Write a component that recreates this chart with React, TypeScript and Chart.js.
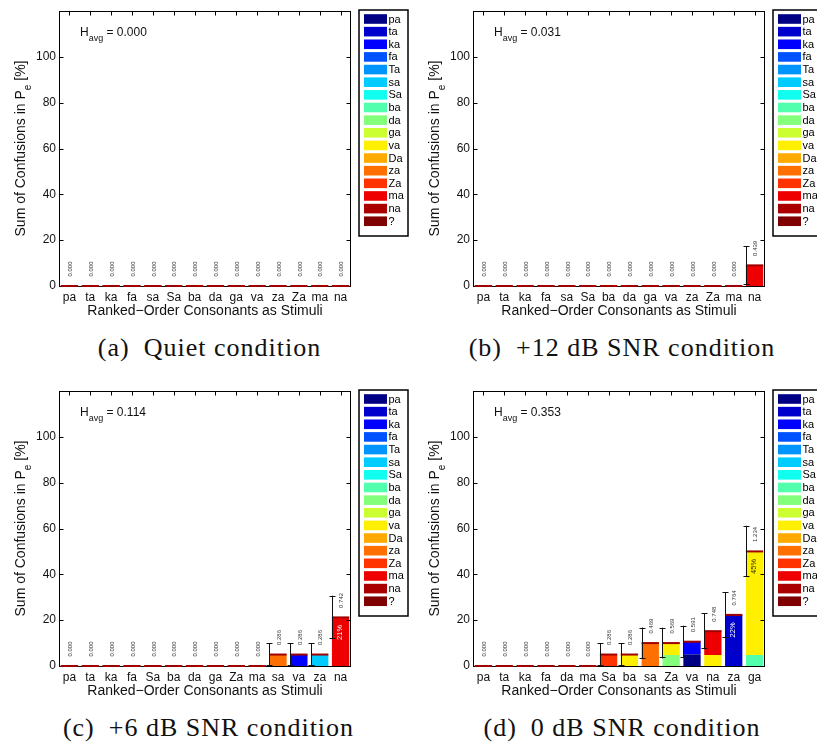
import React, { useEffect, useRef } from 'react';
import { Chart, registerables } from 'chart.js';

Chart.register(...registerables);

// ---------- shared legend (response categories) ----------
const RESPONSES = ['pa', 'ta', 'ka', 'fa', 'Ta', 'sa', 'Sa', 'ba', 'da', 'ga', 'va', 'Da', 'za', 'Za', 'ma', 'na', '?'];
const RESPONSE_COLORS = [
  '#000084', '#0000CC', '#0000FF', '#0052FF', '#0094FF', '#00CCFF', '#10FFEF', '#52FFAD',
  '#84FF7B', '#CCFF31', '#FFEF00', '#FFAA00', '#FF7000', '#FF3300', '#EE0000', '#AA0000', '#7F0000',
];

// ---------- (a) Quiet ----------
const catsA = ['pa', 'ta', 'ka', 'fa', 'sa', 'Sa', 'ba', 'da', 'ga', 'va', 'za', 'Za', 'ma', 'na'];
const errA = [0, 0, 0, 0, 0, 0, 0, 0, 0, 0, 0, 0, 0, 0];
const entA = ['0.000', '0.000', '0.000', '0.000', '0.000', '0.000', '0.000', '0.000', '0.000', '0.000', '0.000', '0.000', '0.000', '0.000'];
const hA = '0.000';

// ---------- (b) +12 dB ----------
const catsB = ['pa', 'ta', 'ka', 'fa', 'sa', 'Sa', 'ba', 'da', 'ga', 'va', 'za', 'Za', 'ma', 'na'];
const bMa = [0, 0, 0, 0, 0, 0, 0, 0, 0, 0, 0, 0, 0, 9.0];
const errB = [0, 0, 0, 0, 0, 0, 0, 0, 0, 0, 0, 0, 0, 8.4];
const entB = ['0.000', '0.000', '0.000', '0.000', '0.000', '0.000', '0.000', '0.000', '0.000', '0.000', '0.000', '0.000', '0.000', '0.439'];
const hB = '0.031';

// ---------- (c) +6 dB ----------
const catsC = ['pa', 'ta', 'ka', 'fa', 'Sa', 'ba', 'da', 'ga', 'Za', 'ma', 'sa', 'va', 'za', 'na'];
const cZa = [0, 0, 0, 0, 0, 0, 0, 0, 0, 0, 5.0, 0, 0, 0];
const cKa = [0, 0, 0, 0, 0, 0, 0, 0, 0, 0, 0, 5.0, 0, 0];
const cSa = [0, 0, 0, 0, 0, 0, 0, 0, 0, 0, 0, 0, 5.0, 0];
const cMa = [0, 0, 0, 0, 0, 0, 0, 0, 0, 0, 0, 0, 0, 21.2];
const errC = [0, 0, 0, 0, 0, 0, 0, 0, 0, 0, 5.0, 5.0, 5.0, 9.5];
const entC = ['0.000', '0.000', '0.000', '0.000', '0.000', '0.000', '0.000', '0.000', '0.000', '0.000', '0.286', '0.286', '0.286', '0.742'];
const hC = '0.114';

// ---------- (d) 0 dB ----------
const catsD = ['pa', 'ta', 'ka', 'fa', 'da', 'ma', 'Sa', 'ba', 'sa', 'Za', 'va', 'na', 'za', 'ga'];
const dPa = [0, 0, 0, 0, 0, 0, 0, 0, 0, 0, 5.1, 0, 0, 0];
const dTa = [0, 0, 0, 0, 0, 0, 0, 0, 0, 0, 0, 0, 22.3, 0];
const dKa = [0, 0, 0, 0, 0, 0, 0, 0, 0, 0, 5.5, 0, 0, 0];
const dBa = [0, 0, 0, 0, 0, 0, 0, 0, 0, 0, 0, 0, 0, 4.8];
const dDa = [0, 0, 0, 0, 0, 0, 0, 0, 0, 4.8, 0, 0, 0, 0];
const dVa = [0, 0, 0, 0, 0, 0, 0, 5.0, 0, 5.2, 0, 4.8, 0, 45.2];
const dZa = [0, 0, 0, 0, 0, 0, 0, 0, 10.0, 0, 0, 0, 0, 0];
const dZZa = [0, 0, 0, 0, 0, 0, 5.0, 0, 0, 0, 0, 0, 0, 0];
const dMa = [0, 0, 0, 0, 0, 0, 0, 0, 0, 0, 0, 10.4, 0, 0];
const errD = [0, 0, 0, 0, 0, 0, 5.0, 5.0, 6.8, 6.7, 7.0, 7.9, 9.9, 11.2];
const entD = ['0.000', '0.000', '0.000', '0.000', '0.000', '0.000', '0.286', '0.286', '0.469', '0.569', '0.591', '0.748', '0.764', '1.234'];
const hD = '0.353';

const Y_TICKS = [0, 20, 40, 60, 80, 100];
const Y_MAX = 120;
const X_TITLE = 'Ranked\u2212Order Consonants as Stimuli';
const Y_TITLE_MAIN = 'Sum of Confusions in P';
const Y_TITLE_SUB = 'e';
const Y_TITLE_END = ' [%]';
const PCT_MIN = 20;

type Panel = {
  cats: string[];
  series: Record<string, number[]>;
  err: number[];
  ent: string[];
  h: string;
};

const panelA: Panel = { cats: catsA, series: {}, err: errA, ent: entA, h: hA };
const panelB: Panel = { cats: catsB, series: { ma: bMa }, err: errB, ent: entB, h: hB };
const panelC: Panel = { cats: catsC, series: { za: cZa, ka: cKa, sa: cSa, ma: cMa }, err: errC, ent: entC, h: hC };
const panelD: Panel = {
  cats: catsD,
  series: { pa: dPa, ta: dTa, ka: dKa, ba: dBa, da: dDa, va: dVa, za: dZa, Za: dZZa, ma: dMa },
  err: errD, ent: entD, h: hD,
};

const FONT = '"Liberation Sans", Arial, Helvetica, sans-serif';
const CAP_COLOR = '#A00000';

function vText(ctx: CanvasRenderingContext2D, text: string, x: number, y: number, align: CanvasTextAlign) {
  ctx.save();
  ctx.translate(x, y);
  ctx.rotate(-Math.PI / 2);
  ctx.textAlign = align;
  ctx.textBaseline = 'middle';
  ctx.fillText(text, 0, 0);
  ctx.restore();
}

function isDark(hex: string) {
  const r = parseInt(hex.slice(1, 3), 16);
  const g = parseInt(hex.slice(3, 5), 16);
  const b = parseInt(hex.slice(5, 7), 16);
  return 0.299 * r + 0.587 * g + 0.114 * b < 150;
}

function makePlugin(p: Panel) {
  return {
    id: 'panelDecor',
    afterDatasetsDraw(chart: any) {
      const ctx: CanvasRenderingContext2D = chart.ctx;
      const ca = chart.chartArea;
      const xs = chart.scales.x;
      const ys = chart.scales.y;
      const n = p.cats.length;
      const datasets = chart.data.datasets;
      const meta = chart.getDatasetMeta(0);

      ctx.save();
      // axes box
      ctx.strokeStyle = '#000';
      ctx.lineWidth = 1;
      const L = Math.round(ca.left) + 0.5;
      const R = Math.round(ca.right) - 0.5;
      const T = Math.round(ca.top) + 0.5;
      const B = Math.round(ca.bottom) + 0.5;
      ctx.strokeRect(L, T, R - L, B - T);
      // inside ticks
      ctx.beginPath();
      for (let i = 0; i < n; i++) {
        const px = Math.round(xs.getPixelForValue(i)) + 0.5;
        ctx.moveTo(px, T);
        ctx.lineTo(px, T + 4);
      }
      for (const v of Y_TICKS) {
        if (v === 0) continue;
        const py = Math.round(ys.getPixelForValue(v)) + 0.5;
        ctx.moveTo(L, py);
        ctx.lineTo(L + 4, py);
        ctx.moveTo(R, py);
        ctx.lineTo(R - 4, py);
      }
      ctx.stroke();

      // totals, caps
      const totals: number[] = [];
      for (let i = 0; i < n; i++) {
        let s = 0;
        for (const ds of datasets) s += ds.data[i] as number;
        totals.push(s);
      }
      for (let i = 0; i < n; i++) {
        const bar = meta.data[i] as any;
        const bl = bar.x - bar.width / 2;
        const top = ys.getPixelForValue(totals[i]);
        ctx.fillStyle = CAP_COLOR;
        ctx.fillRect(bl, top - 1, bar.width, 2);
      }

      // error bars at left edge of bars
      ctx.strokeStyle = '#111';
      ctx.lineWidth = 1;
      for (let i = 0; i < n; i++) {
        const e = p.err[i];
        if (!e) continue;
        const bar = meta.data[i] as any;
        const ex = Math.round(bar.x - bar.width / 2) + 0.5;
        const hi = ys.getPixelForValue(totals[i] + e);
        const lo = ys.getPixelForValue(Math.max(0, totals[i] - e));
        ctx.beginPath();
        ctx.moveTo(ex, hi);
        ctx.lineTo(ex, lo);
        ctx.moveTo(ex - 3, Math.round(hi) + 0.5);
        ctx.lineTo(ex + 3, Math.round(hi) + 0.5);
        ctx.moveTo(ex - 3, Math.round(lo) - 0.5);
        ctx.lineTo(ex + 3, Math.round(lo) - 0.5);
        ctx.stroke();
      }

      // entropy labels
      ctx.fillStyle = '#333';
      ctx.font = `6px ${FONT}`;
      for (let i = 0; i < n; i++) {
        const bar = meta.data[i] as any;
        const top = ys.getPixelForValue(totals[i]);
        vText(ctx, p.ent[i], bar.x + 1, top - 9.5, 'left');
      }

      // percent labels inside big segments
      ctx.font = `7.5px ${FONT}`;
      for (let i = 0; i < n; i++) {
        let cum = 0;
        const bar = meta.data[i] as any;
        datasets.forEach((ds: any) => {
          const v = ds.data[i] as number;
          cum += v;
          if (v >= PCT_MIN) {
            const segTop = ys.getPixelForValue(cum);
            ctx.fillStyle = isDark(ds.backgroundColor) ? '#ffffff' : '#333300';
            vText(ctx, `${Math.round(v)}%`, bar.x - 1, segTop + 7.5, 'right');
          }
        });
      }

      // H_avg annotation
      ctx.fillStyle = '#111';
      ctx.textAlign = 'left';
      ctx.textBaseline = 'alphabetic';
      const hx = ca.left + 21;
      const hy = ca.top + 25;
      ctx.font = `12px ${FONT}`;
      ctx.fillText('H', hx, hy);
      const hw = ctx.measureText('H').width;
      ctx.font = `9px ${FONT}`;
      ctx.fillText('avg', hx + hw, hy + 5);
      const aw = ctx.measureText('avg').width;
      ctx.font = `12px ${FONT}`;
      ctx.fillText(` = ${p.h}`, hx + hw + aw, hy);

      // legend
      const lx = ca.right + 8;
      const ly = ca.top - 1;
      const lw = 49;
      const lh = 226;
      ctx.fillStyle = '#fff';
      ctx.fillRect(lx, ly, lw, lh);
      ctx.font = `11px ${FONT}`;
      ctx.textBaseline = 'middle';
      datasets.forEach((ds: any, k: number) => {
        const cy = ly + 9 + k * 12.64;
        ctx.fillStyle = ds.backgroundColor;
        ctx.fillRect(lx + 5, cy - 4.8, 23, 9.6);
        ctx.fillStyle = '#000';
        ctx.fillText(ds.label, lx + 29.5, cy + 0.5);
      });
      ctx.strokeStyle = '#000';
      ctx.lineWidth = 1.5;
      ctx.strokeRect(lx, ly, lw, lh);

      // x axis title
      ctx.fillStyle = '#111';
      ctx.font = `14px ${FONT}`;
      ctx.textAlign = 'center';
      ctx.textBaseline = 'middle';
      ctx.fillText(X_TITLE, (ca.left + ca.right) / 2, ca.bottom + 24.7);

      // y axis title with subscript
      ctx.save();
      ctx.translate(ca.left - 34, (ca.top + ca.bottom) / 2);
      ctx.rotate(-Math.PI / 2);
      ctx.textAlign = 'left';
      ctx.textBaseline = 'alphabetic';
      ctx.font = `14px ${FONT}`;
      const w1 = ctx.measureText(Y_TITLE_MAIN).width;
      const w3 = ctx.measureText(Y_TITLE_END).width;
      ctx.font = `10px ${FONT}`;
      const w2 = ctx.measureText(Y_TITLE_SUB).width;
      let sx = -(w1 + w2 + w3) / 2;
      ctx.font = `14px ${FONT}`;
      ctx.fillText(Y_TITLE_MAIN, sx, 0);
      sx += w1;
      ctx.font = `10px ${FONT}`;
      ctx.fillText(Y_TITLE_SUB, sx, 6);
      sx += w2;
      ctx.font = `14px ${FONT}`;
      ctx.fillText(Y_TITLE_END, sx, 0);
      ctx.restore();

      ctx.restore();
    },
  };
}

function buildConfig(p: Panel, width: number, height: number): any {
  const datasets = RESPONSES.map((r, k) => ({
    label: r,
    data: p.series[r] ? p.series[r] : p.cats.map(() => 0),
    backgroundColor: RESPONSE_COLORS[k],
    borderWidth: 0,
    barPercentage: 0.83,
    categoryPercentage: 1,
  }));
  return {
    type: 'bar',
    data: { labels: p.cats, datasets },
    options: {
      responsive: false,
      animation: false,
      devicePixelRatio: 1,
      events: [],
      layout: { padding: { left: 0, top: 11, right: width - 351, bottom: 0 } },
      plugins: { legend: { display: false }, tooltip: { enabled: false } },
      scales: {
        x: {
          stacked: true,
          offset: true,
          grid: { display: false, drawTicks: false },
          border: { display: false },
          ticks: {
            autoSkip: false,
            maxRotation: 0,
            minRotation: 0,
            padding: 4,
            color: '#111',
            font: { family: FONT, size: 12 },
          },
          afterFit: (s: any) => { s.height = height - 286; },
        },
        y: {
          stacked: true,
          min: 0,
          max: Y_MAX,
          grid: { display: false, drawTicks: false },
          border: { display: false },
          ticks: {
            stepSize: 20,
            padding: 3,
            color: '#111',
            font: { family: FONT, size: 12 },
            callback: (v: number) => (Y_TICKS.includes(v) ? String(v) : ''),
          },
          afterFit: (s: any) => { s.width = 59; },
        },
      },
    },
    plugins: [makePlugin(p)],
  };
}

function PanelChart({ panel, left, top, width, height }: { panel: Panel; left: number; top: number; width: number; height: number }) {
  const ref = useRef<HTMLCanvasElement>(null);
  useEffect(() => {
    const chart = new Chart(ref.current as HTMLCanvasElement, buildConfig(panel, width, height));
    return () => chart.destroy();
  }, []);
  return (
    <canvas
      ref={ref}
      width={width}
      height={height}
      style={{ position: 'absolute', left, top, width, height, display: 'block' }}
    />
  );
}

const CAPTIONS = ['(a)\u2002Quiet condition', '(b)\u2002+12 dB SNR condition', '(c)\u2002+6 dB SNR condition', '(d)\u20020 dB SNR condition'];

function Caption({ text, cx, baseline }: { text: string; cx: number; baseline: number }) {
  return (
    <div
      style={{
        position: 'absolute',
        left: cx - 200,
        width: 400,
        top: baseline - 23.8,
        lineHeight: '30px',
        height: 30,
        textAlign: 'center',
        fontFamily: '"Liberation Serif", "Times New Roman", serif',
        fontSize: 26,
        letterSpacing: '1px',
        color: '#111',
        whiteSpace: 'nowrap',
      }}
    >
      {text}
    </div>
  );
}

export default function App() {
  return (
    <div
      style={{
        position: 'fixed',
        left: 0,
        top: 0,
        width: 817,
        height: 744,
        overflow: 'hidden',
        background: '#fff',
      }}
    >
      <PanelChart panel={panelA} left={0} top={0} width={409} height={330} />
      <PanelChart panel={panelB} left={414} top={0} width={403} height={330} />
      <PanelChart panel={panelC} left={0} top={380} width={409} height={330} />
      <PanelChart panel={panelD} left={414} top={380} width={403} height={330} />
      <Caption text={CAPTIONS[0]} cx={209.5} baseline={357} />
      <Caption text={CAPTIONS[1]} cx={622} baseline={357} />
      <Caption text={CAPTIONS[2]} cx={208.5} baseline={737} />
      <Caption text={CAPTIONS[3]} cx={622} baseline={737} />
    </div>
  );
}
